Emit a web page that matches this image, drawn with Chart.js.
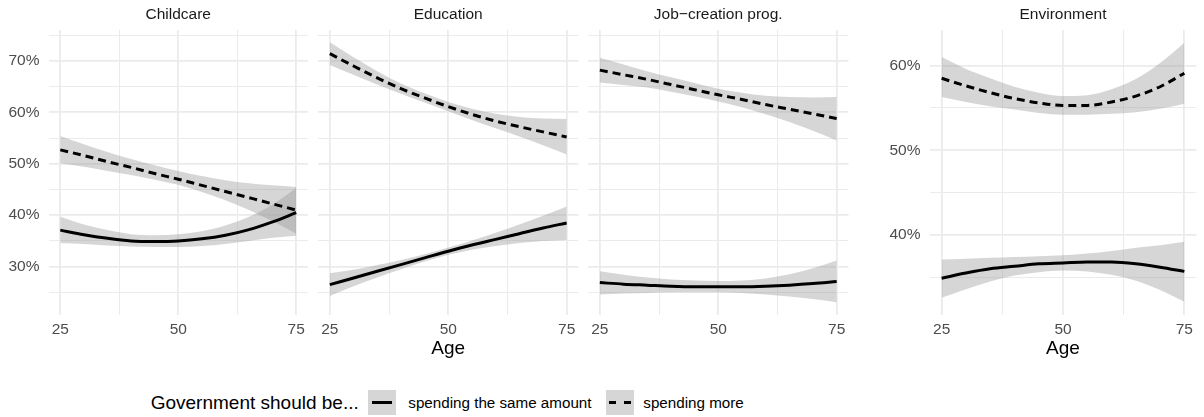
<!DOCTYPE html>
<html>
<head>
<meta charset="utf-8">
<title>Spending preferences by age</title>
<script src="https://cdn.jsdelivr.net/npm/chart.js@4.4.1/dist/chart.umd.min.js"></script>
<style>
  html, body { margin: 0; padding: 0; background: #ffffff; }
  body { width: 1204px; height: 417px; position: relative; overflow: hidden;
         font-family: "Liberation Sans", Arial, Helvetica, sans-serif; }
  .panel { position: absolute; top: 0; height: 370px; }
  #legend { position: absolute; left: 0; top: 390px; width: 1204px; height: 25px; }
  #legend .txt { position: absolute; top: 0; height: 25px; line-height: 25px; white-space: nowrap; color: #000; }
  #legend .title { font-size: 19px; }
  #legend .label { font-size: 15.2px; }
  #legend .key { position: absolute; top: 0; width: 28px; height: 25px; background: #d6d6d6; }
  #legend .seg { position: absolute; top: 11px; height: 3px; background: #000; }
</style>
</head>
<body>
<div class="panel" style="left:0px;width:320px"><canvas id="p1"></canvas></div>
<div class="panel" style="left:300px;width:290px"><canvas id="p2"></canvas></div>
<div class="panel" style="left:570px;width:290px"><canvas id="p3"></canvas></div>
<div class="panel" style="left:860px;width:344px"><canvas id="p4"></canvas></div>
<div id="legend"></div>

<script>
// ---- values ---------------------------------------------------------------
const ages = [25, 30, 35, 40, 45, 50, 55, 60, 65, 70, 75];

const panelTitles = ['Childcare', 'Education', 'Job\u2212creation prog.', 'Environment'];
const legendTitle = 'Government should be...';
const seriesNames = ['spending the same amount', 'spending more'];
const xAxisTitle = 'Age';

const xTicks = [25, 37.5, 50, 62.5, 75];
const xMajor = [25, 50, 75];
const yTicksShared = [25, 30, 35, 40, 45, 50, 55, 60, 65, 70, 75];
const yTicksEnv = [35, 40, 45, 50, 55, 60];

// Childcare
const childcareSameFit = [37.1, 36.2, 35.5, 35.0, 34.9, 35.0, 35.4, 36.1, 37.2, 38.7, 40.5];
const childcareSameLo  = [34.6, 34.4, 34.1, 33.9, 33.8, 33.8, 34.0, 34.4, 35.0, 35.6, 36.0];
const childcareSameHi  = [39.7, 38.2, 37.1, 36.3, 36.1, 36.3, 36.9, 38.0, 39.7, 42.1, 45.3];
const childcareMoreFit = [52.7, 51.6, 50.4, 49.3, 48.1, 47.0, 45.8, 44.6, 43.4, 42.2, 41.0];
const childcareMoreLo  = [50.1, 49.4, 48.6, 47.8, 46.9, 45.9, 44.5, 42.9, 41.0, 38.8, 36.4];
const childcareMoreHi  = [55.4, 53.8, 52.3, 50.9, 49.7, 48.6, 47.6, 46.8, 46.2, 45.8, 45.5];

// Education
const educationSameFit = [26.5, 27.8, 29.1, 30.4, 31.7, 33.0, 34.2, 35.3, 36.4, 37.5, 38.5];
const educationSameLo  = [24.3, 26.2, 27.9, 29.5, 31.0, 32.3, 33.3, 34.0, 34.6, 35.0, 35.2];
const educationSameHi  = [28.7, 29.4, 30.3, 31.3, 32.4, 33.7, 35.1, 36.6, 38.2, 39.9, 41.7];
const educationMoreFit = [71.4, 69.0, 66.7, 64.6, 62.8, 61.1, 59.6, 58.3, 57.2, 56.2, 55.2];
const educationMoreLo  = [69.2, 67.3, 65.4, 63.6, 61.9, 60.2, 58.5, 56.9, 55.3, 53.6, 51.8];
const educationMoreHi  = [73.6, 70.7, 68.0, 65.6, 63.7, 62.0, 60.7, 59.7, 59.1, 58.8, 58.7];

// Job-creation programmes
const jobsSameFit = [26.9, 26.6, 26.4, 26.2, 26.1, 26.1, 26.1, 26.2, 26.4, 26.7, 27.1];
const jobsSameLo  = [24.6, 24.8, 24.9, 25.0, 25.0, 25.0, 24.9, 24.6, 24.2, 23.7, 23.1];
const jobsSameHi  = [29.1, 28.4, 27.9, 27.5, 27.3, 27.2, 27.3, 27.7, 28.5, 29.7, 31.2];
const jobsMoreFit = [68.2, 67.3, 66.4, 65.4, 64.4, 63.4, 62.5, 61.5, 60.6, 59.7, 58.8];
const jobsMoreLo  = [65.8, 65.3, 64.8, 64.0, 63.1, 62.1, 61.0, 59.6, 58.1, 56.4, 54.5];
const jobsMoreHi  = [70.6, 69.3, 68.0, 66.8, 65.7, 64.6, 63.8, 63.2, 63.0, 62.9, 63.0];

// Environment
const environmentSameFit = [34.9, 35.5, 36.0, 36.3, 36.6, 36.7, 36.8, 36.8, 36.6, 36.2, 35.7];
const environmentSameLo  = [32.6, 33.6, 34.5, 35.2, 35.6, 35.8, 35.7, 35.3, 34.6, 33.5, 32.1];
const environmentSameHi  = [37.1, 37.2, 37.3, 37.4, 37.5, 37.6, 37.8, 38.1, 38.5, 38.8, 39.2];
const environmentMoreFit = [58.5, 57.6, 56.8, 56.1, 55.6, 55.3, 55.3, 55.7, 56.4, 57.5, 59.1];
const environmentMoreLo  = [56.3, 55.7, 55.2, 54.8, 54.4, 54.2, 54.2, 54.3, 54.5, 54.9, 55.5];
const environmentMoreHi  = [61.0, 59.6, 58.5, 57.5, 56.8, 56.4, 56.5, 57.2, 58.4, 60.3, 62.7];

// ---- styling --------------------------------------------------------------
const FONT = '"Liberation Sans", Arial, Helvetica, sans-serif';
const GRID = '#ebebeb';
const BAND = 'rgba(153,153,153,0.4)';
const DASH = [8, 5];

const pts = arr => ages.map((a, i) => ({ x: a, y: arr[i] }));

function fitLine(arr, dashed) {
  return {
    data: pts(arr), borderColor: '#000', borderWidth: 3, borderDash: dashed ? DASH : [],
    borderCapStyle: 'butt', pointRadius: 0, fill: false,
    cubicInterpolationMode: 'monotone', order: 0
  };
}
function bandEdge(arr, fillToPrev) {
  return {
    data: pts(arr), borderWidth: 0, borderColor: 'rgba(0,0,0,0)', pointRadius: 0,
    backgroundColor: BAND, fill: fillToPrev ? '-1' : false,
    cubicInterpolationMode: 'monotone', order: 1
  };
}

function panel(id, cfg) {
  const yMajor = v => v % 10 === 0;
  return new Chart(document.getElementById(id), {
    type: 'line',
    data: {
      datasets: [
        bandEdge(cfg.same[1]), bandEdge(cfg.same[2], true),
        bandEdge(cfg.more[1]), bandEdge(cfg.more[2], true),
        fitLine(cfg.same[0], false), fitLine(cfg.more[0], true)
      ]
    },
    options: {
      responsive: true, maintainAspectRatio: false, animation: false,
      devicePixelRatio: 1, events: [],
      layout: { padding: { left: cfg.padLeft, right: cfg.padRight, top: 0, bottom: 0 } },
      plugins: {
        legend: { display: false },
        tooltip: { enabled: false },
        title: {
          display: true, text: cfg.title, fullSize: false, color: '#1a1a1a',
          font: { family: FONT, size: 15.5, weight: 'normal', lineHeight: 1.2 },
          padding: { top: 5.7, bottom: 5.7 }
        }
      },
      scales: {
        x: {
          type: 'linear', min: 22.5, max: 77.5,
          afterBuildTicks: s => { s.ticks = xTicks.map(v => ({ value: v })); },
          afterFit: s => { s.height = 55; },
          ticks: {
            autoSkip: false, maxRotation: 0, padding: 5.4, color: '#4d4d4d',
            font: { family: FONT, size: 15.5, lineHeight: 1.2 },
            callback: v => xMajor.includes(v) ? String(v) : ''
          },
          grid: {
            color: GRID, drawTicks: false,
            lineWidth: c => (c.tick && xMajor.includes(c.tick.value)) ? 1.8 : 1
          },
          border: { display: false },
          title: {
            display: cfg.showXTitle, text: xAxisTitle, color: '#000',
            font: { family: FONT, size: 19, lineHeight: 1.2 },
            padding: { top: 0, bottom: 9.9 }
          }
        },
        y: {
          min: cfg.yMin, max: cfg.yMax,
          afterBuildTicks: s => { s.ticks = cfg.yTicks.map(v => ({ value: v })); },
          afterFit: s => { s.width = cfg.yWidth; },
          ticks: {
            display: cfg.showY, padding: 9, color: '#4d4d4d',
            font: { family: FONT, size: 15.5, lineHeight: 1.2 },
            callback: v => yMajor(v) ? v + '%' : ''
          },
          grid: {
            color: GRID, drawTicks: false,
            lineWidth: c => (c.tick && yMajor(c.tick.value)) ? 1.8 : 1
          },
          border: { display: false }
        }
      }
    }
  });
}

panel('p1', {
  title: panelTitles[0],
  same: [childcareSameFit, childcareSameLo, childcareSameHi],
  more: [childcareMoreFit, childcareMoreLo, childcareMoreHi],
  yMin: 20.6, yMax: 76.0, yTicks: yTicksShared, showY: true, yWidth: 48.5,
  padLeft: 0, padRight: 12, showXTitle: false
});
panel('p2', {
  title: panelTitles[1],
  same: [educationSameFit, educationSameLo, educationSameHi],
  more: [educationMoreFit, educationMoreLo, educationMoreHi],
  yMin: 20.6, yMax: 76.0, yTicks: yTicksShared, showY: false, yWidth: 0,
  padLeft: 18, padRight: 11.5, showXTitle: true
});
panel('p3', {
  title: panelTitles[2],
  same: [jobsSameFit, jobsSameLo, jobsSameHi],
  more: [jobsMoreFit, jobsMoreLo, jobsMoreHi],
  yMin: 20.6, yMax: 76.0, yTicks: yTicksShared, showY: false, yWidth: 0,
  padLeft: 18, padRight: 11.5, showXTitle: false
});
panel('p4', {
  title: panelTitles[3],
  same: [environmentSameFit, environmentSameLo, environmentSameHi],
  more: [environmentMoreFit, environmentMoreLo, environmentMoreHi],
  yMin: 30.55, yMax: 64.2, yTicks: yTicksEnv, showY: true, yWidth: 69.5,
  padLeft: 0, padRight: 7.5, showXTitle: true
});

// ---- shared legend ----------------------------------------------------------
(function buildLegend() {
  const box = document.getElementById('legend');
  const add = (cls, left, text) => {
    const el = document.createElement('div');
    el.className = cls;
    el.style.left = left + 'px';
    if (text) el.textContent = text;
    box.appendChild(el);
    return el;
  };
  add('txt title', 150.7, legendTitle);
  const k1 = add('key', 368);
  const s1 = document.createElement('div');
  s1.className = 'seg'; s1.style.left = '4px'; s1.style.width = '20px';
  k1.appendChild(s1);
  add('txt label', 408.3, seriesNames[0]);
  const k2 = add('key', 606);
  [[2.5, 7], [17.5, 7]].forEach(([l, w]) => {
    const s = document.createElement('div');
    s.className = 'seg'; s.style.left = l + 'px'; s.style.width = w + 'px';
    k2.appendChild(s);
  });
  add('txt label', 643.3, seriesNames[1]);
})();
</script>
</body>
</html>
